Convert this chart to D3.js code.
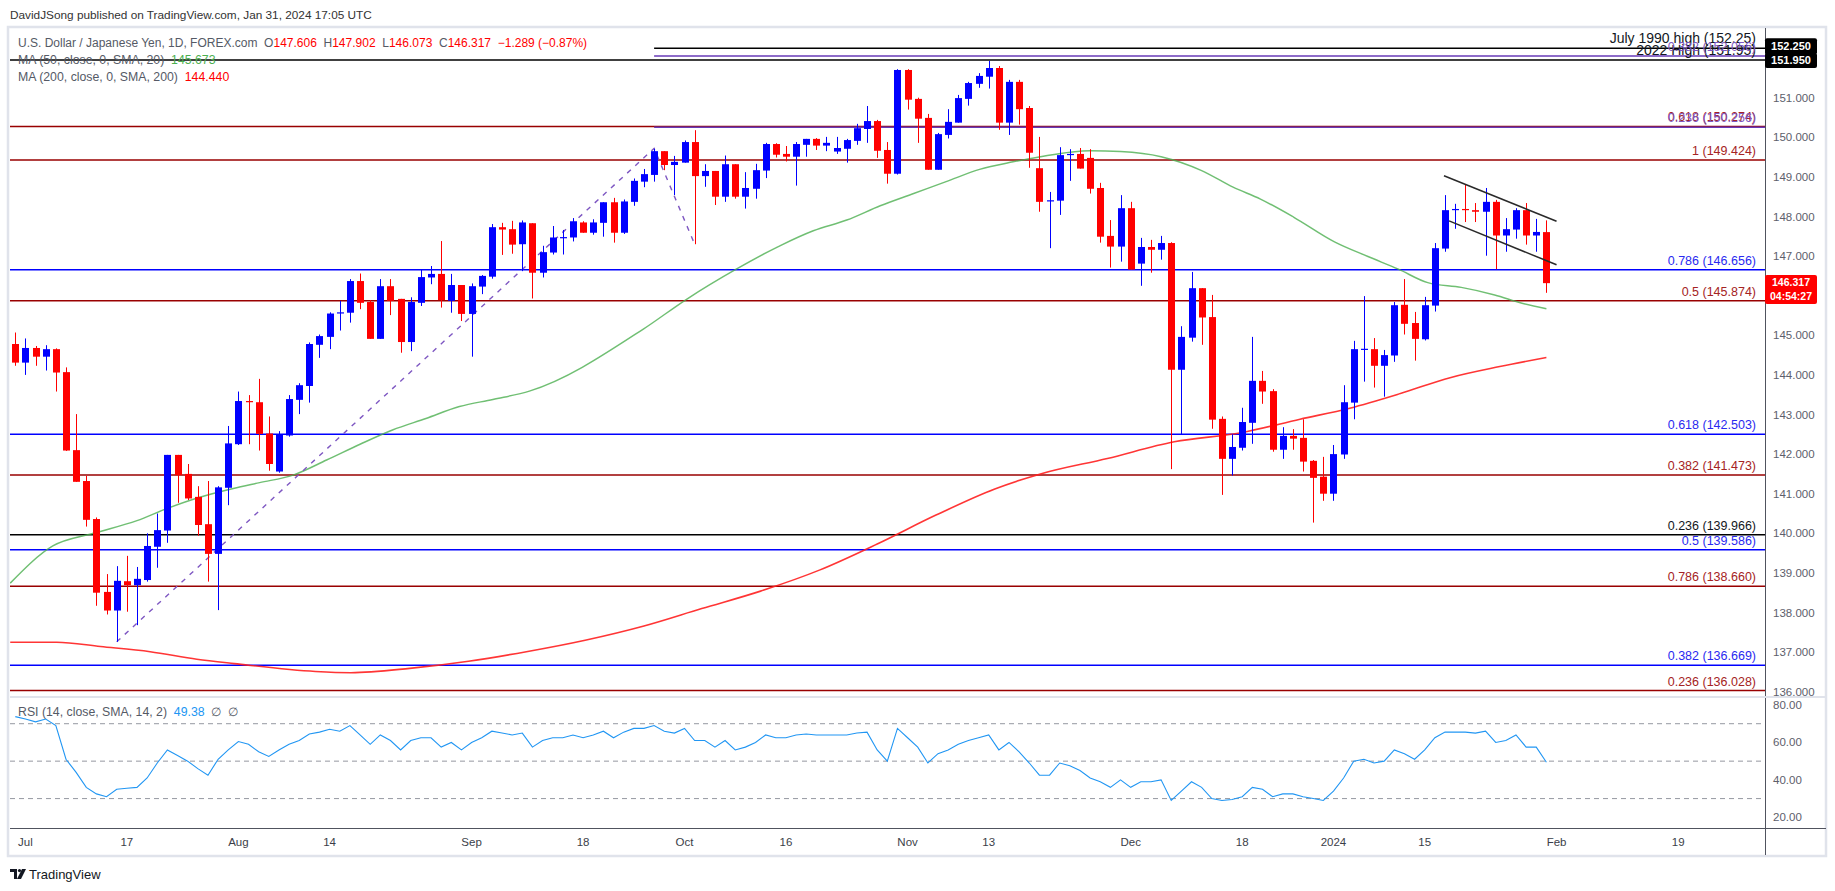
<!DOCTYPE html>
<html><head><meta charset="utf-8">
<script src="https://cdn.jsdelivr.net/npm/d3@7"></script>
<style>
body{margin:0;background:#fff;}
svg{display:block;font-family:"Liberation Sans",Arial,sans-serif;}
</style>
</head><body>
<svg id="c" width="1835" height="891"></svg>
<script>
// ---------------- DATA ----------------
const openP = [144.78,144.31,144.68,144.46,144.65,144.07,142.10,141.32,140.36,138.52,
138.05,138.79,138.69,138.82,139.66,140.07,141.98,141.50,140.92,140.23,
139.48,141.15,142.25,143.34,143.31,142.52,141.56,142.47,143.37,143.72,
144.76,144.96,145.57,145.57,146.37,145.84,144.91,146.24,145.92,144.83,
145.82,146.46,146.55,145.87,146.27,145.54,146.23,146.48,147.73,147.68,
147.30,147.83,146.58,147.09,147.47,147.47,147.85,147.59,147.84,148.36,
147.59,148.37,148.88,149.05,149.65,149.30,149.36,149.88,149.02,149.15,
148.50,149.32,148.50,148.70,149.16,149.83,149.58,149.51,149.81,149.96,
149.79,149.64,149.71,149.91,150.21,150.41,149.68,149.08,151.70,150.97,
150.49,149.18,150.06,150.37,150.97,151.35,151.53,151.75,150.37,151.40,
150.74,149.22,148.40,148.40,149.56,149.58,149.48,148.72,147.51,147.24,
148.21,146.81,147.23,147.16,147.33,144.13,144.94,146.19,145.46,142.89,
141.88,142.16,142.79,143.85,143.59,142.11,142.46,142.41,141.83,141.43,
141.00,141.99,143.30,144.65,144.65,144.23,144.49,145.77,145.31,144.90,
145.75,147.19,148.17,148.19,148.16,148.12,148.37,147.52,147.67,148.16,
147.52,147.606];
const highP = [145.07,144.92,144.73,144.75,144.67,144.19,143.01,141.45,140.40,138.97,
139.17,139.43,139.15,140.00,140.50,141.98,141.98,141.75,141.19,141.32,
141.19,142.71,143.58,143.49,143.90,142.95,142.58,143.49,143.79,144.82,
145.02,145.58,145.87,146.42,146.56,145.89,146.42,146.42,145.92,145.96,
146.66,146.75,147.38,146.55,146.27,146.31,146.52,147.81,147.84,147.89,
147.90,147.83,147.26,147.76,147.66,147.96,147.88,147.93,148.36,148.47,
148.43,148.96,149.20,149.71,149.65,149.53,149.92,150.18,149.32,149.15,
149.54,149.32,149.12,149.33,149.86,149.85,149.78,149.88,149.96,149.98,
150.01,150.01,149.96,150.34,150.79,150.44,149.88,151.72,151.72,151.00,
150.59,150.11,150.71,151.07,151.40,151.62,151.93,151.80,151.45,151.45,
150.79,150.01,148.62,149.75,149.70,149.73,149.70,148.85,147.91,148.54,
148.37,147.46,147.41,147.51,147.35,145.23,146.60,146.19,146.02,142.95,
142.50,143.17,144.96,144.10,143.64,142.68,142.63,142.88,141.85,141.93,
142.23,143.74,144.86,145.99,144.93,144.63,145.84,146.42,145.59,145.97,
147.33,148.54,148.32,148.82,148.34,148.72,148.42,147.96,148.21,148.34,
147.94,147.902];
const lowP = [144.23,144.00,144.23,144.11,143.58,142.08,141.30,140.17,138.17,137.95,
137.26,138.02,137.68,138.78,139.13,139.76,140.77,140.84,139.94,138.78,
138.06,140.71,142.23,142.25,142.09,141.58,141.53,142.44,143.01,143.30,
144.43,144.65,145.12,145.32,145.66,144.91,144.91,145.51,144.56,144.60,
145.74,146.29,145.70,145.57,145.36,144.46,146.04,146.43,147.03,147.06,
146.62,145.93,146.46,147.04,147.04,147.37,147.59,147.54,147.49,147.34,
147.56,148.27,148.74,148.88,149.17,148.54,149.36,147.30,148.75,148.29,
148.37,148.45,148.20,148.45,148.97,149.49,149.39,148.78,149.51,149.68,
149.65,149.58,149.36,149.81,149.86,149.48,148.83,149.06,150.70,149.86,
149.18,149.18,149.97,150.37,150.80,151.25,151.23,150.19,150.06,150.32,
149.23,148.12,147.20,148.04,148.90,149.21,148.58,147.34,146.71,146.86,
146.66,146.25,146.58,146.91,141.62,142.50,144.84,144.76,142.64,140.97,
141.46,142.09,142.26,143.27,142.06,141.88,142.11,141.56,140.27,140.82,
140.82,141.88,142.88,143.83,143.68,143.45,144.33,145.02,144.36,144.87,
145.60,147.11,147.69,147.86,147.86,147.01,146.67,147.11,147.44,147.29,
147.11,146.073];
const closeP = [144.31,144.68,144.46,144.65,144.06,142.09,141.30,140.34,138.50,138.05,
138.80,138.69,138.85,139.68,140.08,141.98,141.47,140.88,140.21,139.48,
141.16,142.27,143.34,143.33,142.51,141.75,142.50,143.39,143.74,144.78,
144.98,145.55,145.58,146.37,145.82,144.91,146.24,145.87,144.83,145.84,
146.47,146.55,145.89,146.27,145.54,146.24,146.50,147.73,147.67,147.29,
147.85,146.58,147.10,147.47,147.48,147.88,147.59,147.85,148.36,147.59,
148.38,148.90,149.07,149.65,149.30,149.38,149.88,149.02,149.15,148.50,
149.32,148.50,148.72,149.17,149.83,149.56,149.51,149.83,149.96,149.79,
149.86,149.73,149.93,150.23,150.41,149.66,149.08,151.70,150.95,150.47,
149.18,150.08,150.39,150.99,151.37,151.55,151.75,150.37,151.40,150.71,
149.61,148.37,148.41,149.55,149.58,149.21,148.70,147.49,147.24,148.21,
146.66,147.23,147.16,147.33,144.13,144.96,146.19,145.45,142.87,141.88,
142.18,142.81,143.85,143.58,142.11,142.46,142.39,141.81,141.40,141.00,
142.00,143.31,144.65,144.66,144.23,144.50,145.76,145.29,144.91,145.76,
147.20,148.16,148.19,148.18,148.12,148.37,147.52,147.68,148.16,147.52,
147.61,146.317];

// 50-day SMA: bar position / value
const ma50Pos = [-0.5,3.7,7.7,12,15,18.2,21.5,24.1,27.4,30.7,34,37.2,40.5,43.8,47.1,50.7,61.9,66.2,71.1,75.4,78.7,82,85.3,88.6,91.8,95.1,98.4,101.1,106,109,113,117,120.1,122.8,126.1,130.1,133.4,136.4,139.3,142.6,145.9,148.6,151];
const ma50Val = [138.74,139.68,140.00,140.32,140.63,140.91,141.13,141.28,141.47,141.85,142.25,142.61,142.90,143.20,143.38,143.59,145.15,145.91,146.67,147.26,147.64,147.91,148.27,148.58,148.88,149.19,149.38,149.51,149.66,149.64,149.51,149.16,148.74,148.44,147.98,147.36,146.99,146.67,146.33,146.21,146.02,145.81,145.673];
// 200-day SMA
const ma200Pos = [-0.5,4.1,8.4,13.3,17.9,21.6,29.6,33.1,38.9,44.7,50.4,56.2,62,67.7,73.5,79.3,85,90.8,96.6,101.1,107.7,114.3,120.9,126.7,131.6,136.6,141.5,146.4,151];
const ma200Val = [137.25,137.25,137.14,137.01,136.82,136.71,136.51,136.48,136.59,136.77,137.01,137.30,137.66,138.10,138.54,139.07,139.73,140.46,141.12,141.50,141.89,142.31,142.54,142.88,143.16,143.53,143.93,144.21,144.44];

// RSI(14) per bar
const rsiVal = [73.8,72.5,71,72.5,69,51,44,36,32.5,31,35,35.5,36,41,49,56,53,50,46,42.5,
51,56,60.5,59,55,52.5,56,59,61,64.5,65.5,67,66,69,64,59,64,61,56,61,
62.5,62.5,57.5,60,56,60,62.5,66,65,64,65,57.5,61,62.5,62.5,64,62.5,64,66,62.5,
65.5,67.5,67.5,69,66,65,67.5,61,61,57.5,61,56,57.5,60,64,62.5,62.5,64,64.5,64,
64,64,64,65,65.5,56,50,67.5,62.5,57.5,49,54,56,59,61,62.5,64,56,60,55,
49,42.5,42.5,49,47.5,45,41,39,36,40,36,39,39,40,29,34,39,36,30,29,
29.5,31,36,35,31,32.5,32.5,31,30,29,34,41,50,51,49,50,56,54,51,56,
62.5,65.5,65.5,65.5,65,66,60,61,64,57.5,57.5,49.38];

const priceTicks = [151,150,149,148,147,146,145,144,143,142,141,140,139,138,137,136];
const rsiTicks = [80,60,40,20];
const rsiLevels = [70,50,30];
const timeTickPos = [1,11,22,31,45,56,66,76,88,96,110,121,130,139,152,164];
const timeTickLabels = ["Jul","17","Aug","14","Sep","18","Oct","16","Nov","13","Dec","18","2024","15","Feb","19"];

// horizontal levels drawn on the chart
const levelPrice = [152.25,151.95,152.056,150.274,150.256,149.424,146.656,145.874,142.503,141.473,139.966,139.586,138.660,136.669,136.028];
const levelText = ["July 1990 high (152.25)","2022 High (151.95)","0.382 (152.056)","0.618 (150.274)","0.236 (150.256)","1 (149.424)","0.786 (146.656)","0.5 (145.874)","0.618 (142.503)","0.382 (141.473)","0.236 (139.966)","0.5 (139.586)","0.786 (138.660)","0.382 (136.669)","0.236 (136.028)"];
const levelGroup = ["mark","mark","ext","ret","ext","ret","fibB","ret","fibB","ret","mark","fibB","ret","fibB","ret"];
const levelFromBar = [63,null,63,null,63,null,null,null,null,null,null,null,null,null,null];

// trend-based fib anchor points (bar, price)
const anchorPos = [10,63,67];
const anchorVal = [137.26,149.72,147.30];
// falling channel (bar, price)
const chanUpPos = [140.9,152], chanUpVal = [149.03,147.88];
const chanLoPos = [141.4,152], chanLoVal = [147.89,146.78];

// ---------------- DRAW ----------------
const svg = d3.select("#c");
const W = 1835, H = 891;
const plotL = 10, plotR = 1765, priceTop = 28, priceBot = 697, rsiTop = 697, rsiBot = 828;

const x = d3.scaleLinear().domain([0,151]).range([15.3,1546.4]);
const y = d3.scaleLinear().domain([136,151]).range([691.7,97.7]);
const yr = d3.scaleLinear().domain([20,80]).range([817.3,705]);

const colorMap = {mark:["#000000","#131722"], ext:["#673ab7","#7e57c2"], ret:["#990000","#a52323"], fibB:["#0000ff","#2a2af0"]};

svg.append("rect").attr("x",0).attr("y",0).attr("width",W).attr("height",H).attr("fill","#fff");
// frame
svg.append("rect").attr("x",8).attr("y",27).attr("width",1818).attr("height",829)
  .attr("fill","none").attr("stroke","#e0e3eb").attr("stroke-width",2.5);

const defs = svg.append("defs");
defs.append("clipPath").attr("id","cp").append("rect")
  .attr("x",plotL).attr("y",priceTop).attr("width",plotR-plotL).attr("height",priceBot-priceTop);
defs.append("clipPath").attr("id","cr").append("rect")
  .attr("x",plotL).attr("y",rsiTop).attr("width",plotR-plotL).attr("height",rsiBot-rsiTop);

const gp = svg.append("g").attr("clip-path","url(#cp)");

// levels
levelPrice.forEach((p,i)=>{
  const c = colorMap[levelGroup[i]];
  const x0 = levelFromBar[i]==null ? plotL : x(levelFromBar[i]);
  gp.append("line").attr("x1",x0).attr("x2",plotR).attr("y1",y(p)).attr("y2",y(p))
    .attr("stroke",c[0]).attr("stroke-width",1.5);
});
levelPrice.forEach((p,i)=>{
  const c = colorMap[levelGroup[i]];
  gp.append("text").attr("x",1756).attr("y",y(p)-5).attr("text-anchor","end")
    .attr("font-size", levelGroup[i]==="mark" && i<2 ? 14 : 12.5).attr("fill",c[1]).text(levelText[i]);
});

// MA lines
const ln = d3.line().curve(d3.curveMonotoneX);
gp.append("path").attr("d", ln(ma200Pos.map((p,i)=>[x(p),y(ma200Val[i])])))
  .attr("fill","none").attr("stroke","#ff1f1f").attr("stroke-width",1.6).attr("opacity",0.9);
gp.append("path").attr("d", ln(ma50Pos.map((p,i)=>[x(p),y(ma50Val[i])])))
  .attr("fill","none").attr("stroke","#4caf50").attr("stroke-width",1.5).attr("opacity",0.8);

// fib trend dashed line
gp.append("path").attr("d", d3.line()(anchorPos.map((p,i)=>[x(p),y(anchorVal[i])])))
  .attr("fill","none").attr("stroke","#7e57c2").attr("stroke-width",1.4).attr("stroke-dasharray","5,6");

// candles
const bw = 7;
const cg = gp.append("g");
openP.forEach((o,i)=>{
  const c = closeP[i] >= o ? "#0000ff" : "#ff0000";
  const cx = Math.round(x(i)) + 0.5;
  cg.append("line").attr("x1",cx).attr("x2",cx).attr("y1",y(highP[i])).attr("y2",y(lowP[i]))
    .attr("stroke",c).attr("stroke-width",1);
  const yt = y(Math.max(o,closeP[i])), yb = y(Math.min(o,closeP[i]));
  cg.append("rect").attr("x",cx-bw/2).attr("y",yt).attr("width",bw).attr("height",Math.max(1.2,yb-yt)).attr("fill",c);
});

// channel
[[chanUpPos,chanUpVal],[chanLoPos,chanLoVal]].forEach(([ps,vs])=>{
  gp.append("line").attr("x1",x(ps[0])).attr("y1",y(vs[0])).attr("x2",x(ps[1])).attr("y2",y(vs[1]))
    .attr("stroke","#2a2a2a").attr("stroke-width",1.5);
});

// price axis
svg.append("line").attr("x1",plotR+0.5).attr("x2",plotR+0.5).attr("y1",priceTop).attr("y2",855)
  .attr("stroke","#50535e").attr("stroke-width",1);
const ay = svg.append("g");
priceTicks.forEach(t=>{
  ay.append("text").attr("x",1773).attr("y",y(t)).attr("dy","0.35em").attr("font-size",11.5)
    .attr("fill","#5d606b").text(d3.format(".3f")(t));
});
// price boxes
function box(yc, h, fill, lines, step, fs){
  ay.append("rect").attr("x",plotR).attr("y",yc-h/2).attr("width",52).attr("height",h).attr("rx",2).attr("fill",fill);
  lines.forEach((s,k)=>{
    ay.append("text").attr("x",plotR+26).attr("y",yc - (lines.length-1)*step/2 + k*step).attr("dy","0.35em")
      .attr("text-anchor","middle").attr("font-size",fs).attr("font-weight","bold").attr("fill","#fff").text(s);
  });
}
box(y(152.25)-2,16,"#000",["152.250"],0,11);
box(y(151.95)+0.5,15,"#000",["151.950"],0,11);
box(289.5,29,"#ff0000",["146.317","04:54:27"],13.5,10.5);

// RSI separator
svg.append("line").attr("x1",plotL).attr("x2",1826).attr("y1",rsiTop).attr("y2",rsiTop)
  .attr("stroke","#e0e3eb").attr("stroke-width",2);

// RSI panel
const gr = svg.append("g").attr("clip-path","url(#cr)");
rsiLevels.forEach(v=>{
  gr.append("line").attr("x1",plotL).attr("x2",plotR).attr("y1",yr(v)).attr("y2",yr(v))
    .attr("stroke","#9598a1").attr("stroke-width",1).attr("stroke-dasharray","5,4");
});
gr.append("path").attr("d", d3.line()(rsiVal.map((v,i)=>[x(i),yr(v)])))
  .attr("fill","none").attr("stroke","#2196f3").attr("stroke-width",1.1);
rsiTicks.forEach(t=>{
  svg.append("text").attr("x",1773).attr("y",yr(t)).attr("dy","0.35em").attr("font-size",11.5)
    .attr("fill","#5d606b").text(d3.format(".2f")(t));
});

// time axis
svg.append("line").attr("x1",plotL).attr("x2",1826).attr("y1",rsiBot+0.5).attr("y2",rsiBot+0.5)
  .attr("stroke","#50535e").attr("stroke-width",1.2);
timeTickPos.forEach((p,i)=>{
  svg.append("text").attr("x",x(p)).attr("y",842).attr("dy","0.35em").attr("text-anchor","middle")
    .attr("font-size",11.5).attr("fill","#3b3e48").text(timeTickLabels[i]);
});

// header & legends
svg.append("text").attr("x",10).attr("y",19).attr("font-size",11.8).attr("fill","#333")
  .text("DavidJSong published on TradingView.com, Jan 31, 2024 17:05 UTC");
function legend(yy, fs, parts){
  const t = svg.append("text").attr("x",18).attr("y",yy).attr("font-size",fs);
  parts.forEach(([s,c])=>t.append("tspan").attr("fill",c).attr("xml:space","preserve").text(s));
}
const gray="#555a66", red="#ff0000";
legend(47,12,[["U.S. Dollar / Japanese Yen, 1D, FOREX.com  O",gray],["147.606",red],["  H",gray],["147.902",red],["  L",gray],["146.073",red],["  C",gray],["146.317",red],["  −1.289 (−0.87%)",red]]);
legend(64,12.3,[["MA (50, close, 0, SMA, 20)  ",gray],["145.673","#4caf50"]]);
legend(81,12.3,[["MA (200, close, 0, SMA, 200)  ",gray],["144.440",red]]);
legend(716,12.3,[["RSI (14, close, SMA, 14, 2)  ",gray],["49.38","#2196f3"],["  ∅  ∅",gray]]);

// TradingView mark
const lg = svg.append("g").attr("transform","translate(10,869)");
lg.append("path").attr("d","M0 0 H7 V10 H4 V3 H0 Z").attr("fill","#131722");
lg.append("circle").attr("cx",9.5).attr("cy",1.6).attr("r",1.6).attr("fill","#131722");
lg.append("path").attr("d","M12 0 H16 L11 10 H7 Z").attr("fill","#131722");
svg.append("text").attr("x",29).attr("y",879).attr("font-size",13).attr("fill","#131722").text("TradingView");
</script>
</body></html>
